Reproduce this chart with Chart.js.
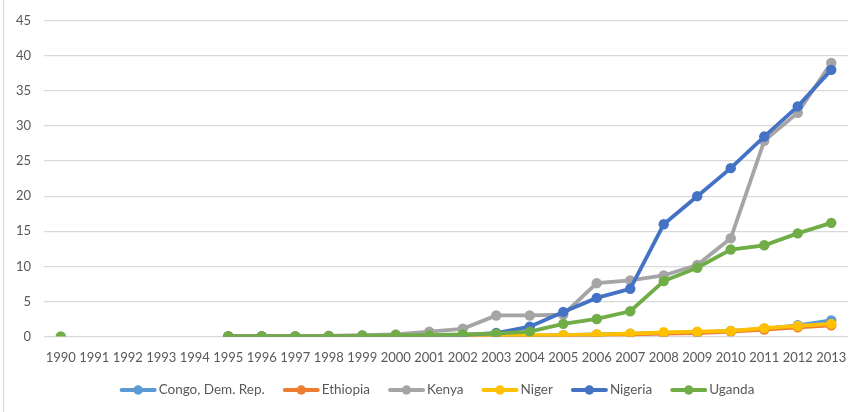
<!DOCTYPE html>
<html>
<head>
<meta charset="utf-8">
<script src="https://cdn.jsdelivr.net/npm/chart.js@4.4.1/dist/chart.umd.min.js"></script>
<style>
  html, body { margin: 0; padding: 0; background: #ffffff; }
  #wrap { position: relative; width: 856px; height: 412px; }
  #edge { position: absolute; left: 3px; top: 0; width: 1px; height: 412px; background: #d6d6d6; }
  canvas { display: block; }
</style>
</head>
<body>
<div id="wrap">
  <div id="edge"></div>
  <canvas id="chart" width="856" height="412"></canvas>
</div>
<script>
// Years on the category axis
const years = ['1990','1991','1992','1993','1994','1995','1996','1997','1998','1999',
               '2000','2001','2002','2003','2004','2005','2006','2007','2008','2009',
               '2010','2011','2012','2013'];

// Series values per country (null = no observation)
const congo    = [null,null,null,null,null, 0,0,0,0,0, 0,0,0.1,0.1,0.1, 0.2,0.3,0.4,0.5,0.6, 0.8,1.1,1.6,2.3];
const ethiopia = [null,null,null,null,null, 0,0,0,0,0, 0,0,0,0,0.1, 0.1,0.2,0.3,0.4,0.5, 0.7,1.0,1.3,1.6];
const kenya    = [null,null,null,null,null, 0,0,0,0.1,0.2, 0.3,0.7,1.1,3.0,3.0, 3.1,7.6,8.0,8.7,10.2, 14.0,27.9,31.9,39.0];
const niger    = [null,null,null,null,null, 0,0,0,0,0, 0,0.05,0.1,0.1,0.2, 0.2,0.3,0.4,0.6,0.7, 0.8,1.2,1.5,1.8];
const nigeria  = [null,null,null,null,null, 0,0,0,0,0, 0,0,0.2,0.5,1.4, 3.5,5.5,6.8,16.0,20.0, 24.0,28.5,32.8,38.0];
const uganda   = [0,null,null,null,null, 0,0,0,0,0.1, 0.2,0.2,0.3,0.4,0.7, 1.8,2.5,3.6,7.9,9.8, 12.4,13.0,14.7,16.2];

// Y axis ticks
const yTicks = [0,5,10,15,20,25,30,35,40,45];

const seriesNames  = ['Congo, Dem. Rep.','Ethiopia','Kenya','Niger','Nigeria','Uganda'];
const seriesData   = [congo, ethiopia, kenya, niger, nigeria, uganda];
const seriesColors = ['#5B9BD5','#ED7D31','#A5A5A5','#FFC000','#4472C4','#70AD47'];

const FONT = 'Lato';
const TEXT = '#595959';

const datasets = seriesNames.map((name, i) => ({
  label: name,
  data: seriesData[i],
  borderColor: seriesColors[i],
  backgroundColor: seriesColors[i],
  borderWidth: 3.8,
  pointRadius: 5.2,
  pointHoverRadius: 5.2,
  pointBorderWidth: 0,
  spanGaps: false,
  tension: 0,
  // later series are drawn over earlier ones
  order: seriesNames.length - i
}));

// Bottom legend: line-and-dot swatch followed by the series name
const lineLegend = {
  id: 'lineLegend',
  afterDraw(chart) {
    const ctx = chart.ctx;
    const sets = chart.data.datasets;
    const swatchW = 35, gapText = 3, gapItem = 19, yMid = 390;
    ctx.save();
    ctx.font = '13.5px ' + FONT;
    ctx.textBaseline = 'middle';
    const widths = sets.map(d => ctx.measureText(d.label).width);
    const total = widths.reduce((s, w) => s + swatchW + gapText + w, 0) + gapItem * (sets.length - 1);
    let x = 437.5 - total / 2;
    sets.forEach((d, i) => {
      ctx.strokeStyle = d.borderColor;
      ctx.lineWidth = 4;
      ctx.lineCap = 'round';
      ctx.beginPath(); ctx.moveTo(x + 1, yMid); ctx.lineTo(x + swatchW - 1, yMid); ctx.stroke();
      ctx.fillStyle = d.borderColor;
      ctx.beginPath(); ctx.arc(x + swatchW / 2, yMid, 4.7, 0, Math.PI * 2); ctx.fill();
      ctx.fillStyle = TEXT;
      ctx.fillText(d.label, x + swatchW + gapText, yMid);
      x += swatchW + gapText + widths[i] + gapItem;
    });
    ctx.restore();
  }
};

new Chart(document.getElementById('chart'), {
  type: 'line',
  data: { labels: years, datasets },
  plugins: [lineLegend],
  options: {
    responsive: false,
    animation: false,
    layout: { padding: { left: 0, right: 8, top: 20, bottom: 47.5 } },
    scales: {
      x: {
        offset: true,
        grid: { display: false },
        border: { display: false },
        afterFit: (s) => { s.height = 28; },
        ticks: {
          color: TEXT, font: { family: FONT, size: 13 },
          padding: 6, maxRotation: 0, autoSkip: false
        }
      },
      y: {
        min: 0, max: 45,
        afterBuildTicks: (axis) => { axis.ticks = yTicks.map(v => ({ value: v })); },
        afterFit: (s) => { s.width = 44; },
        grid: { color: '#d9d9d9', lineWidth: 1.3, drawTicks: false },
        border: { display: false },
        ticks: { color: TEXT, font: { family: FONT, size: 13 }, padding: 13 }
      }
    },
    plugins: {
      tooltip: { enabled: false },
      legend: { display: false }
    }
  }
});
</script>
</body>
</html>
